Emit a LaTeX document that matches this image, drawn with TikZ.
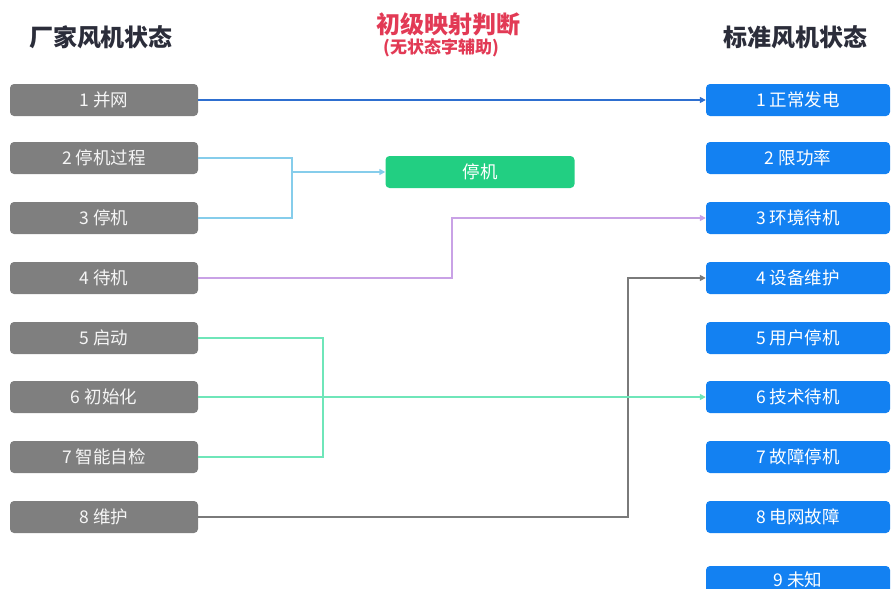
\documentclass[tikz,border=0pt]{standalone}
\usepackage{fontspec}
\newfontfamily\cjk{Noto Sans CJK SC}
\usetikzlibrary{arrows.meta}
\definecolor{lbox}{HTML}{7F7F7F}
\definecolor{rbox}{HTML}{1381F2}
\definecolor{gbox}{HTML}{22CF82}
\definecolor{ttl}{HTML}{2B2D3A}
\definecolor{redt}{HTML}{E23A55}
\definecolor{c1}{HTML}{2E6FD0}
\definecolor{c2}{HTML}{86CDEB}
\definecolor{c3}{HTML}{C9A2E6}
\definecolor{c4}{HTML}{6FE6B9}
\definecolor{c5}{HTML}{7A7A7A}
\tikzset{
  lstate/.style={fill=lbox,rounded corners=4pt,minimum width=188pt,minimum height=32pt,inner sep=0pt,text=white!92!lbox,font=\cjk\fontsize{17.5}{17.5}\selectfont},
  rstate/.style={fill=rbox,rounded corners=4pt,minimum width=184pt,minimum height=32pt,inner sep=0pt,text=white,font=\cjk\fontsize{17.5}{17.5}\selectfont},
  gstate/.style={fill=gbox,rounded corners=4pt,minimum width=189pt,minimum height=32pt,inner sep=0pt,text=white,font=\cjk\fontsize{17.5}{17.5}\selectfont},
  heading/.style={text=ttl,font=\cjk\bfseries\fontsize{24}{24}\selectfont,inner sep=0pt},
  link/.style={line width=2.4pt},
  tip/.style={-{Triangle[length=6pt,width=6pt]}}
}
\begin{document}
\begin{tikzpicture}[x=1pt,y=-1pt]
\useasboundingbox (0,0) rectangle (892,589);
\clip (0,0) rectangle (892,589);
\node[heading] (hl) at (101,37) {厂家风机状态};
\node[heading] (hr) at (795,37) {标准风机状态};
\node[text=redt,font=\cjk\bfseries\fontsize{24}{24}\selectfont,inner sep=0pt] (hm) at (448,24) {初级映射判断};
\node[text=redt,font=\cjk\bfseries\fontsize{17}{17}\selectfont,inner sep=0pt] (hs) at (441,48) {(无状态字辅助)};
\foreach \i/\t [count=\k] in {100/1 并网,158/2 停机过程,218/3 停机,278/4 待机,338/5 启动,397/6 初始化,457/7 智能自检,517/8 维护}
  \node[lstate] (L\k) at (104,\i) {\t};
\foreach \i/\t [count=\k] in {100/1 正常发电,158/2 限功率,218/3 环境待机,278/4 设备维护,338/5 用户停机,397/6 技术待机,457/7 故障停机,517/8 电网故障}
  \node[rstate] (R\k) at (798,\i) {\t};
\node[rstate] (R9) at (798,582) {\raisebox{6pt}{9 未知}};
\node[gstate] (G) at (480,172) {停机};
% 1
\draw[link,c1,tip] (L1.east) -- (R1.west);
% 2,3
\coordinate (j23) at (292,172);
\draw[link,c2] (L2.east) -| (j23) |- (L3.east);
\draw[link,c2,tip] (j23) -- (G.west);
% 4
\draw[link,c3,tip] (L4.east) -- (452,278) |- (R3.west);
% 8
\draw[link,c5,tip] (L8.east) -- (628,517) |- (R4.west);
% 5,6,7
\coordinate (j567) at (323,397);
\draw[link,c4] (L5.east) -| (j567) |- (L7.east);
\draw[link,c4,tip] (L6.east) -- (R6.west);
\end{tikzpicture}
\end{document}
